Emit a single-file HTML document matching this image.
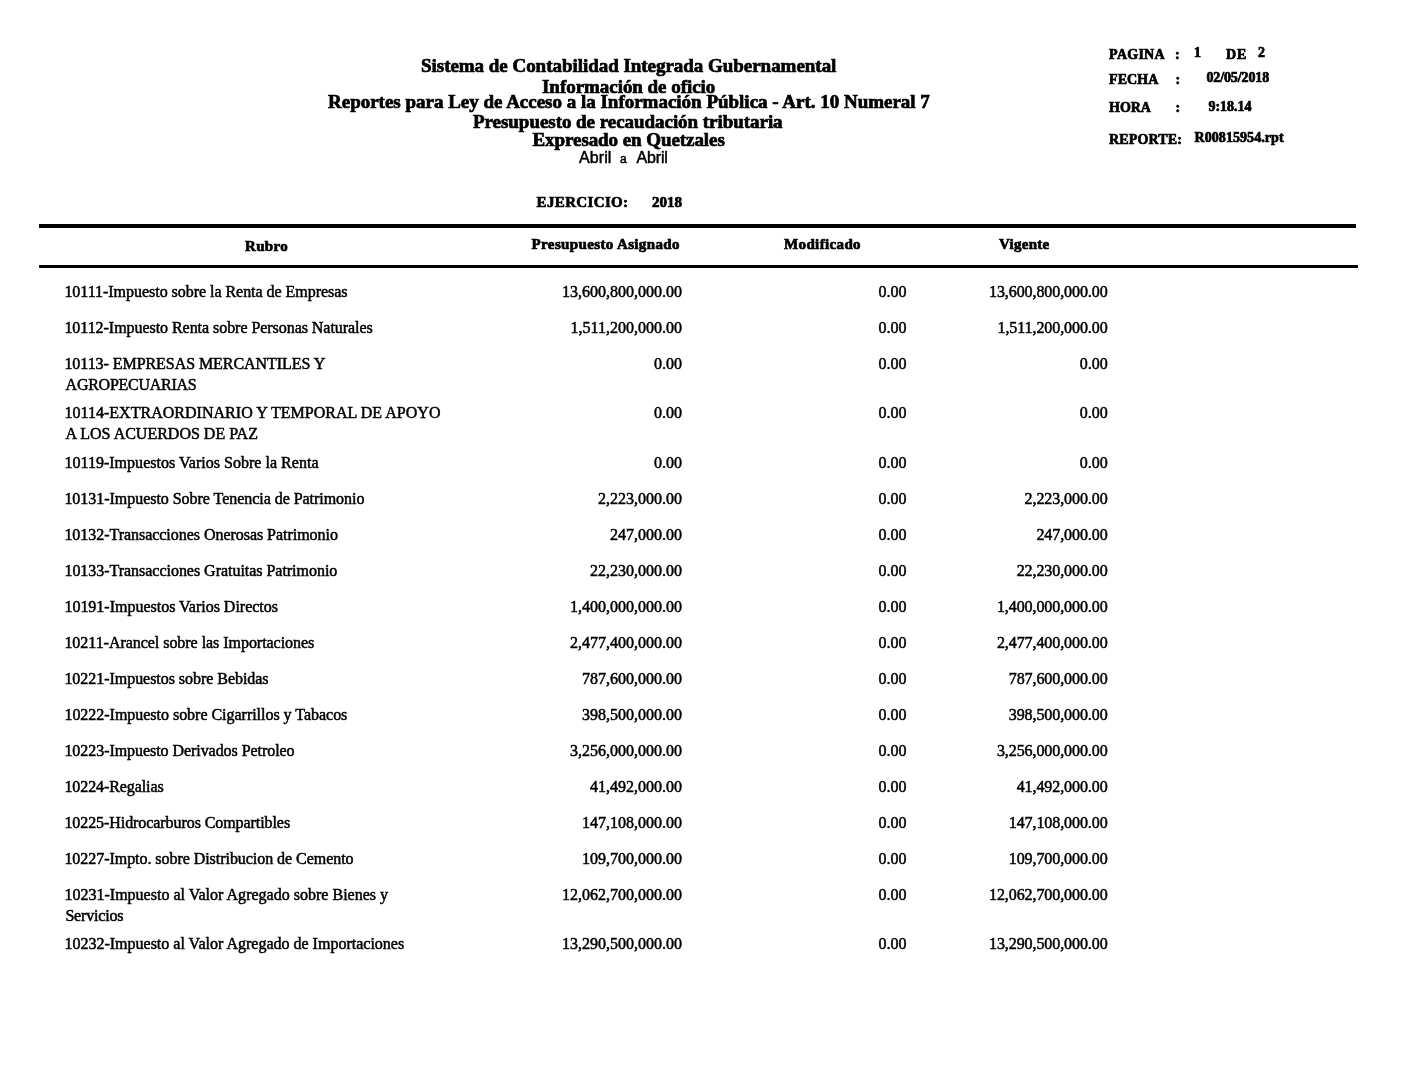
<!DOCTYPE html>
<html><head><meta charset="utf-8"><style>
html,body{margin:0;padding:0;background:#fff;}
body{width:1408px;height:1088px;position:relative;overflow:hidden;}
#w{position:absolute;left:0;top:0;width:1408px;height:1088px;will-change:transform;background:#fff;}
.t{position:absolute;white-space:pre;line-height:0;color:#000;font-family:"Liberation Serif",serif;-webkit-text-stroke:0.5px #000;}
.a{font-family:"Liberation Sans",sans-serif;}
.b{font-weight:bold;-webkit-text-stroke:0.7px #000;}
.ln{position:absolute;background:#000;}
</style></head><body><div id="w">
<div class="ln" style="left:39px;top:224px;width:1317px;height:4px"></div>
<div class="ln" style="left:39px;top:265px;width:1319px;height:3px"></div>
<div class="t b" style="top:65.59px;font-size:19px;letter-spacing:-0.035px;left:421.00px;">Sistema de Contabilidad Integrada Gubernamental</div>
<div class="t b" style="top:86.59px;font-size:19px;letter-spacing:-0.040px;left:542.00px;">Información de oficio</div>
<div class="t b" style="top:101.89px;font-size:19px;letter-spacing:-0.011px;left:328.00px;">Reportes para Ley de Acceso a la Información Pública - Art. 10 Numeral 7</div>
<div class="t b" style="top:121.59px;font-size:19px;letter-spacing:-0.044px;left:473.00px;">Presupuesto de recaudación tributaria</div>
<div class="t b" style="top:139.59px;font-size:19px;letter-spacing:-0.076px;left:532.50px;">Expresado en Quetzales</div>
<div class="t a" style="top:157.60px;font-size:16px;letter-spacing:0.040px;left:579.12px;">Abril</div>
<div class="t a" style="top:158.95px;font-size:12px;left:620.00px;">a</div>
<div class="t a" style="top:157.60px;font-size:16px;letter-spacing:-0.200px;left:636.58px;">Abril</div>
<div class="t b" style="top:201.94px;font-size:15px;letter-spacing:0.353px;left:536.58px;">EJERCICIO:</div>
<div class="t b" style="top:202.44px;font-size:15px;left:652.00px;">2018</div>
<div class="t b" style="top:55.27px;font-size:14px;letter-spacing:0.256px;left:1109.12px;">PAGINA</div>
<div class="t b" style="top:55.27px;font-size:14px;left:1175.00px;">:</div>
<div class="t b" style="top:53.27px;font-size:14px;left:1194.08px;">1</div>
<div class="t b" style="top:55.27px;font-size:14px;letter-spacing:0.960px;left:1226.00px;">DE</div>
<div class="t b" style="top:53.27px;font-size:14px;left:1258.00px;">2</div>
<div class="t b" style="top:79.78px;font-size:14px;letter-spacing:0.040px;left:1109.12px;">FECHA</div>
<div class="t b" style="top:80.28px;font-size:14px;left:1175.62px;">:</div>
<div class="t b" style="top:77.78px;font-size:14px;letter-spacing:-0.107px;left:1206.38px;">02/05/2018</div>
<div class="t b" style="top:107.70px;font-size:14px;letter-spacing:-0.053px;left:1109.12px;">HORA</div>
<div class="t b" style="top:108.28px;font-size:14px;left:1175.62px;">:</div>
<div class="t b" style="top:107.28px;font-size:14px;left:1208.42px;">9:18.14</div>
<div class="t b" style="top:139.69px;font-size:14px;letter-spacing:0.137px;left:1109.12px;">REPORTE:</div>
<div class="t b" style="top:138.43px;font-size:14px;letter-spacing:0.067px;left:1194.50px;">R00815954.rpt</div>
<div class="t b" style="top:245.56px;font-size:15px;letter-spacing:0.330px;left:245.00px;">Rubro</div>
<div class="t b" style="top:243.94px;font-size:15px;letter-spacing:0.364px;left:531.58px;">Presupuesto Asignado</div>
<div class="t b" style="top:243.94px;font-size:15px;letter-spacing:0.366px;left:784.00px;">Modificado</div>
<div class="t b" style="top:243.94px;font-size:15px;letter-spacing:0.277px;left:998.96px;">Vigente</div>
<div class="t" style="top:291.60px;font-size:16px;letter-spacing:-0.036px;left:64.42px;">10111-Impuesto sobre la Renta de Empresas</div>
<div class="t" style="top:291.60px;font-size:16px;right:726.00px;">13,600,800,000.00</div>
<div class="t" style="top:291.60px;font-size:16px;right:501.54px;">0.00</div>
<div class="t" style="top:291.60px;font-size:16px;letter-spacing:-0.080px;right:300.38px;">13,600,800,000.00</div>
<div class="t" style="top:327.60px;font-size:16px;letter-spacing:-0.047px;left:64.42px;">10112-Impuesto Renta sobre Personas Naturales</div>
<div class="t" style="top:327.60px;font-size:16px;right:726.00px;">1,511,200,000.00</div>
<div class="t" style="top:327.60px;font-size:16px;right:501.54px;">0.00</div>
<div class="t" style="top:327.60px;font-size:16px;letter-spacing:-0.080px;right:300.38px;">1,511,200,000.00</div>
<div class="t" style="top:363.60px;font-size:16px;letter-spacing:-0.057px;left:64.42px;">10113- EMPRESAS MERCANTILES Y</div>
<div class="t" style="top:385.10px;font-size:16px;letter-spacing:-0.267px;left:65.62px;">AGROPECUARIAS</div>
<div class="t" style="top:363.60px;font-size:16px;right:726.00px;">0.00</div>
<div class="t" style="top:363.60px;font-size:16px;right:501.54px;">0.00</div>
<div class="t" style="top:363.60px;font-size:16px;right:300.38px;">0.00</div>
<div class="t" style="top:412.60px;font-size:16px;letter-spacing:0.025px;left:64.42px;">10114-EXTRAORDINARIO Y TEMPORAL DE APOYO</div>
<div class="t" style="top:434.10px;font-size:16px;left:65.62px;">A LOS ACUERDOS DE PAZ</div>
<div class="t" style="top:412.60px;font-size:16px;right:726.00px;">0.00</div>
<div class="t" style="top:412.60px;font-size:16px;right:501.54px;">0.00</div>
<div class="t" style="top:412.60px;font-size:16px;right:300.38px;">0.00</div>
<div class="t" style="top:462.60px;font-size:16px;letter-spacing:0.022px;left:64.42px;">10119-Impuestos Varios Sobre la Renta</div>
<div class="t" style="top:462.60px;font-size:16px;right:726.00px;">0.00</div>
<div class="t" style="top:462.60px;font-size:16px;right:501.54px;">0.00</div>
<div class="t" style="top:462.60px;font-size:16px;right:300.38px;">0.00</div>
<div class="t" style="top:498.60px;font-size:16px;letter-spacing:-0.038px;left:64.42px;">10131-Impuesto Sobre Tenencia de Patrimonio</div>
<div class="t" style="top:498.60px;font-size:16px;right:726.00px;">2,223,000.00</div>
<div class="t" style="top:498.60px;font-size:16px;right:501.54px;">0.00</div>
<div class="t" style="top:498.60px;font-size:16px;letter-spacing:-0.080px;right:300.38px;">2,223,000.00</div>
<div class="t" style="top:534.60px;font-size:16px;letter-spacing:-0.038px;left:64.42px;">10132-Transacciones Onerosas Patrimonio</div>
<div class="t" style="top:534.60px;font-size:16px;right:726.00px;">247,000.00</div>
<div class="t" style="top:534.60px;font-size:16px;right:501.54px;">0.00</div>
<div class="t" style="top:534.60px;font-size:16px;letter-spacing:-0.080px;right:300.38px;">247,000.00</div>
<div class="t" style="top:570.60px;font-size:16px;letter-spacing:-0.029px;left:64.42px;">10133-Transacciones Gratuitas Patrimonio</div>
<div class="t" style="top:570.60px;font-size:16px;right:726.00px;">22,230,000.00</div>
<div class="t" style="top:570.60px;font-size:16px;right:501.54px;">0.00</div>
<div class="t" style="top:570.60px;font-size:16px;letter-spacing:-0.080px;right:300.38px;">22,230,000.00</div>
<div class="t" style="top:606.60px;font-size:16px;letter-spacing:-0.011px;left:64.42px;">10191-Impuestos Varios Directos</div>
<div class="t" style="top:606.60px;font-size:16px;right:726.00px;">1,400,000,000.00</div>
<div class="t" style="top:606.60px;font-size:16px;right:501.54px;">0.00</div>
<div class="t" style="top:606.60px;font-size:16px;letter-spacing:-0.080px;right:300.38px;">1,400,000,000.00</div>
<div class="t" style="top:642.60px;font-size:16px;letter-spacing:-0.040px;left:64.42px;">10211-Arancel sobre las Importaciones</div>
<div class="t" style="top:642.60px;font-size:16px;right:726.00px;">2,477,400,000.00</div>
<div class="t" style="top:642.60px;font-size:16px;right:501.54px;">0.00</div>
<div class="t" style="top:642.60px;font-size:16px;letter-spacing:-0.080px;right:300.38px;">2,477,400,000.00</div>
<div class="t" style="top:678.60px;font-size:16px;letter-spacing:-0.040px;left:64.42px;">10221-Impuestos sobre Bebidas</div>
<div class="t" style="top:678.60px;font-size:16px;right:726.00px;">787,600,000.00</div>
<div class="t" style="top:678.60px;font-size:16px;right:501.54px;">0.00</div>
<div class="t" style="top:678.60px;font-size:16px;letter-spacing:-0.080px;right:300.38px;">787,600,000.00</div>
<div class="t" style="top:714.60px;font-size:16px;letter-spacing:-0.023px;left:64.42px;">10222-Impuesto sobre Cigarrillos y Tabacos</div>
<div class="t" style="top:714.60px;font-size:16px;right:726.00px;">398,500,000.00</div>
<div class="t" style="top:714.60px;font-size:16px;right:501.54px;">0.00</div>
<div class="t" style="top:714.60px;font-size:16px;letter-spacing:-0.080px;right:300.38px;">398,500,000.00</div>
<div class="t" style="top:750.60px;font-size:16px;letter-spacing:-0.055px;left:64.42px;">10223-Impuesto Derivados Petroleo</div>
<div class="t" style="top:750.60px;font-size:16px;right:726.00px;">3,256,000,000.00</div>
<div class="t" style="top:750.60px;font-size:16px;right:501.54px;">0.00</div>
<div class="t" style="top:750.60px;font-size:16px;letter-spacing:-0.080px;right:300.38px;">3,256,000,000.00</div>
<div class="t" style="top:786.60px;font-size:16px;letter-spacing:-0.086px;left:64.42px;">10224-Regalias</div>
<div class="t" style="top:786.60px;font-size:16px;right:726.00px;">41,492,000.00</div>
<div class="t" style="top:786.60px;font-size:16px;right:501.54px;">0.00</div>
<div class="t" style="top:786.60px;font-size:16px;letter-spacing:-0.080px;right:300.38px;">41,492,000.00</div>
<div class="t" style="top:822.60px;font-size:16px;letter-spacing:-0.072px;left:64.42px;">10225-Hidrocarburos Compartibles</div>
<div class="t" style="top:822.60px;font-size:16px;right:726.00px;">147,108,000.00</div>
<div class="t" style="top:822.60px;font-size:16px;right:501.54px;">0.00</div>
<div class="t" style="top:822.60px;font-size:16px;letter-spacing:-0.080px;right:300.38px;">147,108,000.00</div>
<div class="t" style="top:858.60px;font-size:16px;letter-spacing:-0.047px;left:64.42px;">10227-Impto. sobre Distribucion de Cemento</div>
<div class="t" style="top:858.60px;font-size:16px;right:726.00px;">109,700,000.00</div>
<div class="t" style="top:858.60px;font-size:16px;right:501.54px;">0.00</div>
<div class="t" style="top:858.60px;font-size:16px;letter-spacing:-0.080px;right:300.38px;">109,700,000.00</div>
<div class="t" style="top:894.60px;font-size:16px;letter-spacing:0.010px;left:64.42px;">10231-Impuesto al Valor Agregado sobre Bienes y</div>
<div class="t" style="top:916.10px;font-size:16px;letter-spacing:-0.180px;left:65.42px;">Servicios</div>
<div class="t" style="top:894.60px;font-size:16px;right:726.00px;">12,062,700,000.00</div>
<div class="t" style="top:894.60px;font-size:16px;right:501.54px;">0.00</div>
<div class="t" style="top:894.60px;font-size:16px;letter-spacing:-0.080px;right:300.38px;">12,062,700,000.00</div>
<div class="t" style="top:943.60px;font-size:16px;letter-spacing:0.003px;left:64.42px;">10232-Impuesto al Valor Agregado de Importaciones</div>
<div class="t" style="top:943.60px;font-size:16px;right:726.00px;">13,290,500,000.00</div>
<div class="t" style="top:943.60px;font-size:16px;right:501.54px;">0.00</div>
<div class="t" style="top:943.60px;font-size:16px;letter-spacing:-0.080px;right:300.38px;">13,290,500,000.00</div>
</div></body></html>
